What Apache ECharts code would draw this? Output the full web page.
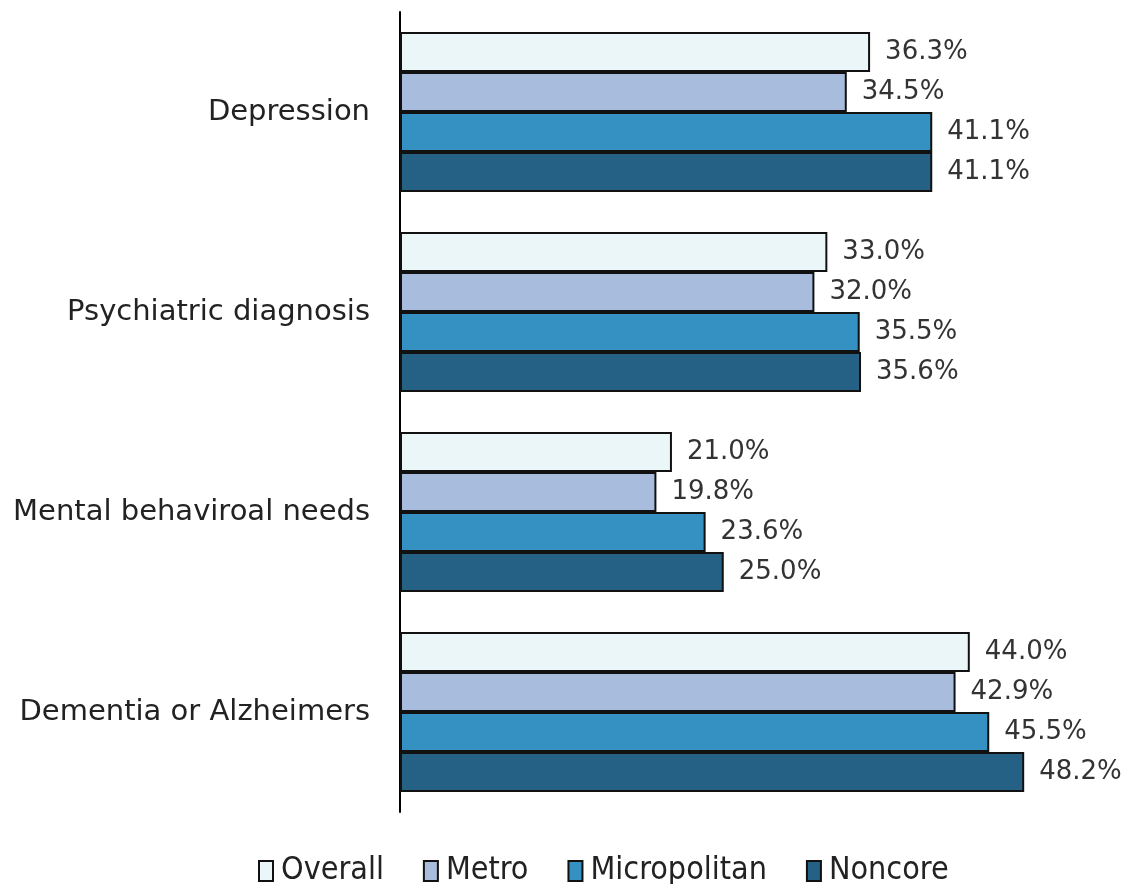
<!DOCTYPE html>
<html>
<head>
<meta charset="utf-8">
<script src="https://cdn.jsdelivr.net/npm/echarts@6/dist/echarts.min.js"></script>
<style>html,body{margin:0;padding:0;background:#fff}#c{width:1130px;height:884px}</style>
</head>
<body>
<div id="c"></div>
<script>
const categories = ["Depression", "Psychiatric diagnosis", "Mental behaviroal needs", "Dementia or Alzheimers"];
const seriesNames = ["Overall", "Metro", "Micropolitan", "Noncore"];
const overall = [36.3, 33.0, 21.0, 44.0];
const metro = [34.5, 32.0, 19.8, 42.9];
const micropolitan = [41.1, 35.5, 23.6, 45.5];
const noncore = [41.1, 35.6, 25.0, 48.2];
const colors = ["#EAF6F8", "#A8BDDD", "#3591C2", "#256184"];
const values = [overall, metro, micropolitan, noncore];

const chart = echarts.init(document.getElementById('c'), null, {renderer: 'canvas'});
const font = "'DejaVu Sans', sans-serif";
chart.setOption({
  animation: false,
  grid: {left: 400, top: 12, bottom: 72, right: 82.5},
  legend: {
    top: 850, left: 253,
    icon: 'rect',
    itemWidth: 14, itemHeight: 20, itemGap: 39,
    textStyle: {fontFamily: "'DejaVu Sans Condensed', 'DejaVu Sans', sans-serif", fontSize: 32, color: '#222', padding: [0,0,0,3]},
    data: seriesNames.map((n, i) => ({name: n, itemStyle: {color: colors[i], borderColor: '#111', borderWidth: 2}}))
  },
  xAxis: {type: 'value', min: 0, max: 50, show: false},
  yAxis: {
    type: 'category', data: categories, inverse: true,
    axisLine: {lineStyle: {color: '#000', width: 2}},
    axisTick: {show: false},
    axisLabel: {fontFamily: font, fontSize: 29, color: '#222', margin: 30}
  },
  series: seriesNames.map((n, i) => ({
    name: n, type: 'bar', data: values[i],
    barGap: '0%', barCategoryGap: '20%',
    itemStyle: {color: colors[i], borderColor: '#111', borderWidth: 2},
    label: {show: true, position: 'right', distance: 15, fontFamily: font, fontSize: 26, color: '#333',
      formatter: p => p.value.toFixed(1) + '%'}
  }))
});
</script>
</body>
</html>
